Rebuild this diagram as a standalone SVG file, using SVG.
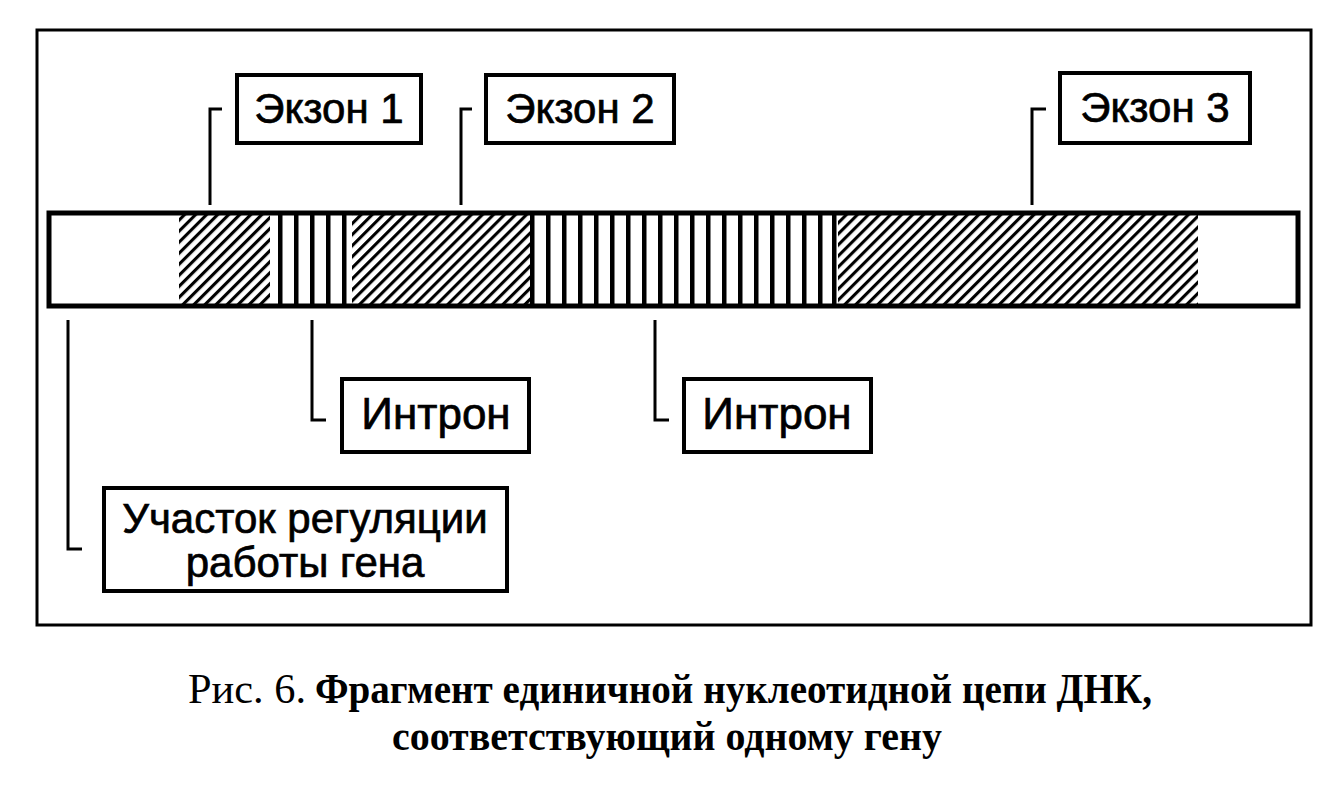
<svg xmlns="http://www.w3.org/2000/svg" width="1328" height="796" viewBox="0 0 1328 796">
<style>
.frame{fill:none;stroke:#000;stroke-width:3}
.box{fill:#fff;stroke:#000;stroke-width:4}
.lead{fill:none;stroke:#000;stroke-width:3}
.lbl{font-family:"Liberation Sans",Arial,sans-serif;font-size:42px;fill:#000;stroke:#000;stroke-width:0.7;text-anchor:middle}
.cap{font-family:"Liberation Serif","Times New Roman",serif;font-size:42px;fill:#000}
.st{fill:#000}
</style>
<defs>
<pattern id="diag" patternUnits="userSpaceOnUse" width="7.8" height="20" patternTransform="rotate(45)">
<rect x="0" y="0" width="3.1" height="20" fill="#000"/>
</pattern>
</defs>
<rect width="1328" height="796" fill="#fff"/>
<rect class="frame" x="37" y="30" width="1274" height="595"/>

<g id="dna">
<rect x="179" y="215" width="91" height="89" fill="url(#diag)"/>
<rect x="352" y="215" width="179" height="89" fill="url(#diag)"/>
<rect x="838" y="215" width="360" height="89" fill="url(#diag)"/>
<g class="st">
<rect x="278" y="215" width="4.5" height="89"/>
<rect x="294" y="215" width="4.5" height="89"/>
<rect x="310" y="215" width="4.5" height="89"/>
<rect x="326" y="215" width="4.5" height="89"/>
<rect x="342" y="215" width="4.5" height="89"/>
<rect x="530" y="215" width="4.5" height="89"/>
<rect x="546" y="215" width="4.5" height="89"/>
<rect x="562" y="215" width="4.5" height="89"/>
<rect x="578" y="215" width="4.5" height="89"/>
<rect x="594" y="215" width="4.5" height="89"/>
<rect x="610" y="215" width="4.5" height="89"/>
<rect x="626" y="215" width="4.5" height="89"/>
<rect x="642" y="215" width="4.5" height="89"/>
<rect x="658" y="215" width="4.5" height="89"/>
<rect x="674" y="215" width="4.5" height="89"/>
<rect x="690" y="215" width="4.5" height="89"/>
<rect x="706" y="215" width="4.5" height="89"/>
<rect x="722" y="215" width="4.5" height="89"/>
<rect x="738" y="215" width="4.5" height="89"/>
<rect x="754" y="215" width="4.5" height="89"/>
<rect x="770" y="215" width="4.5" height="89"/>
<rect x="786" y="215" width="4.5" height="89"/>
<rect x="802" y="215" width="4.5" height="89"/>
<rect x="818" y="215" width="4.5" height="89"/>
<rect x="832" y="215" width="4.5" height="89"/>
</g>
<rect x="49" y="213" width="1249" height="93" fill="none" stroke="#000" stroke-width="5"/>
</g>

<g id="connectors">
<path class="lead" d="M210,205 V109 H222"/>
<path class="lead" d="M461,205 V109 H472"/>
<path class="lead" d="M1032,205 V109 H1046"/>
<path class="lead" d="M312,320 V420 H326"/>
<path class="lead" d="M655,320 V420 H669"/>
<path class="lead" d="M68,320 V549 H82"/>
</g>

<g id="exon1">
<rect class="box" x="237" y="75" width="184" height="68"/>
<text class="lbl" x="329" y="123">Экзон 1</text>
</g>
<g id="exon2">
<rect class="box" x="486" y="75" width="188" height="68"/>
<text class="lbl" x="580" y="123">Экзон 2</text>
</g>
<g id="exon3">
<rect class="box" x="1060" y="73" width="190" height="70"/>
<text class="lbl" x="1155" y="122">Экзон 3</text>
</g>
<g id="intron1">
<rect class="box" x="342" y="379" width="187" height="73"/>
<text class="lbl" x="436" y="429" style="font-size:44px">Интрон</text>
</g>
<g id="intron2">
<rect class="box" x="684" y="379" width="187" height="73"/>
<text class="lbl" x="777" y="429" style="font-size:44px">Интрон</text>
</g>
<g id="regulation">
<rect class="box" x="104" y="488" width="403" height="103"/>
<text class="lbl" x="305" y="533">Участок регуляции</text>
<text class="lbl" x="305" y="577">работы гена</text>
</g>

<g id="caption">
<text class="cap" x="188" y="703" textLength="118" lengthAdjust="spacingAndGlyphs">Рис. 6.</text>
<text class="cap" x="315" y="703" font-weight="bold" textLength="837" lengthAdjust="spacingAndGlyphs">Фрагмент единичной нуклеотидной цепи ДНК,</text>
<text class="cap" x="392" y="750" font-weight="bold" textLength="550" lengthAdjust="spacingAndGlyphs">соответствующий одному гену</text>
</g>
</svg>
